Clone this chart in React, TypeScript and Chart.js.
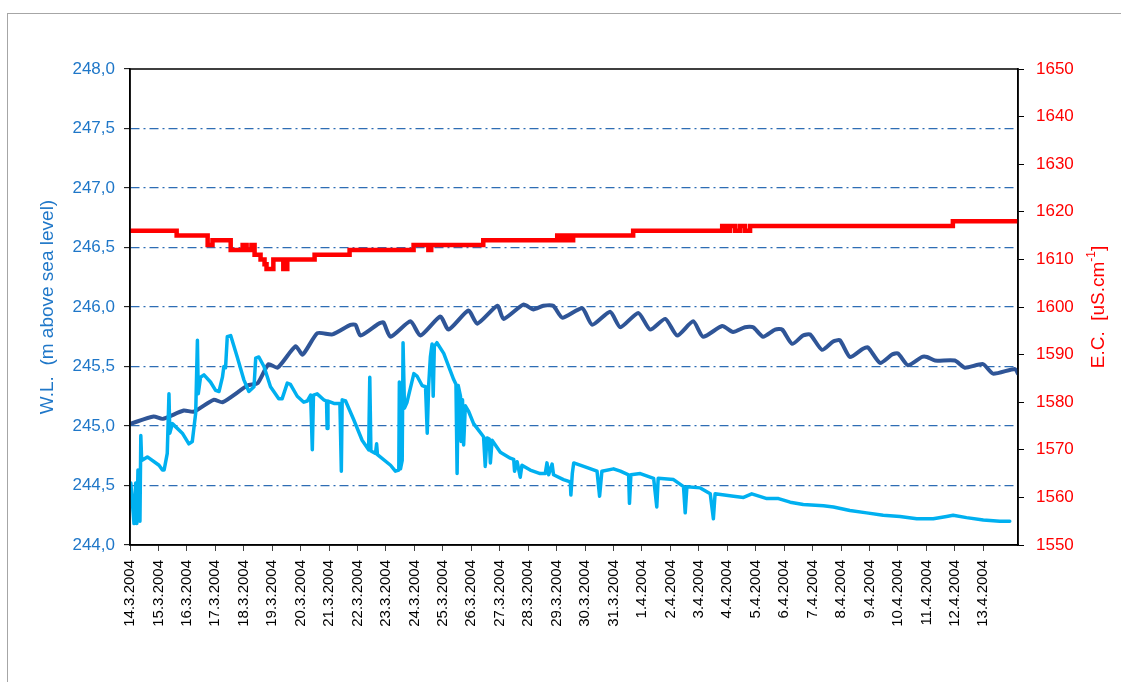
import React, { useEffect, useRef } from "react";
import { Chart, registerables } from "chart.js";

Chart.register(...registerables);

const dateLabels = [
  "14.3.2004", "15.3.2004", "16.3.2004", "17.3.2004", "18.3.2004", "19.3.2004",
  "20.3.2004", "21.3.2004", "22.3.2004", "23.3.2004", "24.3.2004", "25.3.2004",
  "26.3.2004", "27.3.2004", "28.3.2004", "29.3.2004", "30.3.2004", "31.3.2004",
  "1.4.2004", "2.4.2004", "3.4.2004", "4.4.2004", "5.4.2004", "6.4.2004",
  "7.4.2004", "8.4.2004", "9.4.2004", "10.4.2004", "11.4.2004", "12.4.2004",
  "13.4.2004",
];
const dayMax = 31.22;
const wlTicks = [244, 244.5, 245, 245.5, 246, 246.5, 247, 247.5, 248];
const ecTicks = [1550, 1560, 1570, 1580, 1590, 1600, 1610, 1620, 1630, 1640, 1650];

// E.C. (red), step series
const ecDays = [
  0.0, 1.64, 2.73, 2.9, 3.54, 3.96, 4.1, 4.27, 4.38, 4.59, 4.73, 4.8, 5.04, 5.39, 5.53,
  6.49, 7.72, 9.97, 10.49, 10.59, 12.42, 15.02, 15.16, 15.3, 15.44, 15.58, 17.69,
  20.82, 20.96, 21.1, 21.28, 21.45, 21.62, 21.8, 28.93, 31.22,
];
const ecValues = [
  1616, 1615, 1613, 1614, 1612, 1613, 1612, 1613, 1611, 1610, 1609, 1608, 1610, 1608, 1610,
  1611, 1612, 1613, 1612, 1613, 1614, 1615, 1614, 1615, 1614, 1615, 1616,
  1617, 1616, 1617, 1616, 1617, 1616, 1617, 1618, 1618,
];

// W.L. well 1 (dark blue)
const wl1Days = [
  0.03, 0.83, 1.15, 1.89, 2.24, 2.94, 3.26, 4.13, 4.49, 4.87, 5.19, 5.82, 6.07, 6.59,
  7.12, 7.75, 7.93, 8.1, 8.74, 8.91, 9.16, 9.86, 10.21, 10.91, 11.2, 11.9, 12.21, 12.92,
  13.13, 13.83, 14.18, 14.53, 14.88, 15.2, 15.9, 16.25, 16.88, 17.24, 17.87, 18.29,
  18.82, 19.24, 19.8, 20.15, 20.82, 21.2, 21.62, 21.91, 22.26, 22.68, 22.93, 23.28,
  23.66, 23.91, 24.33, 24.72, 24.96, 25.31, 25.77, 25.95, 26.37, 26.79, 27.0, 27.35,
  27.84, 28.02, 28.3, 29.0, 29.35, 29.99, 30.34, 31.11, 31.22,
];
const wl1Values = [
  245.02, 245.08, 245.06, 245.13, 245.12, 245.22, 245.2, 245.34, 245.36, 245.52, 245.49,
  245.67, 245.6, 245.78, 245.77, 245.85, 245.85, 245.76, 245.86, 245.87, 245.75, 245.88,
  245.76, 245.92, 245.81, 245.97, 245.86, 246.01, 245.9, 246.02, 245.98, 246.01, 246.01,
  245.91, 245.99, 245.85, 245.96, 245.83, 245.95, 245.81, 245.9, 245.76, 245.88, 245.75,
  245.84, 245.79, 245.83, 245.83, 245.75, 245.81, 245.81, 245.69, 245.76, 245.77, 245.64,
  245.71, 245.72, 245.58, 245.65, 245.66, 245.53, 245.6, 245.61, 245.51, 245.58, 245.58,
  245.55, 245.55, 245.49, 245.52, 245.44, 245.48, 245.44,
];

// W.L. well 2 (light blue)
const wl2Days = [
  0.03, 0.14, 0.2, 0.24, 0.28, 0.35, 0.38, 0.41, 0.61, 1.02, 1.14, 1.2, 1.31, 1.37, 1.4,
  1.49, 1.84, 2.07, 2.19, 2.31, 2.37, 2.4, 2.48, 2.6, 2.83, 3.01, 3.13, 3.25, 3.3, 3.36,
  3.42, 3.54, 3.77, 4.0, 4.18, 4.36, 4.42, 4.53, 4.71, 4.94, 5.23, 5.35, 5.53, 5.64, 5.88,
  6.11, 6.23, 6.35, 6.41, 6.45, 6.58, 6.81, 6.91, 6.93, 6.96, 7.17, 7.38, 7.43, 7.46, 7.58,
  7.87, 8.16, 8.39, 8.43, 8.47, 8.63, 8.67, 8.7, 9.16, 9.33, 9.45, 9.47, 9.51, 9.57, 9.6,
  9.65, 9.74, 9.98, 10.09, 10.27, 10.39, 10.45, 10.5, 10.56, 10.62, 10.66, 10.7, 10.79,
  11.03, 11.38, 11.46, 11.5, 11.54, 11.62, 11.64, 11.69, 11.73, 11.79, 11.91, 12.08, 12.43,
  12.49, 12.55, 12.63, 12.67, 12.73, 13.02, 13.37, 13.49, 13.52, 13.61, 13.72, 13.78,
  14.07, 14.42, 14.6, 14.66, 14.72, 14.84, 14.89, 15.24, 15.48, 15.5, 15.55, 15.6, 15.95,
  16.42, 16.51, 16.59, 17.0, 17.24, 17.53, 17.56, 17.61, 17.94, 18.41, 18.52, 18.57,
  19.11, 19.46, 19.52, 19.58, 20.05, 20.4, 20.51, 20.57, 21.22, 21.57, 21.86, 22.39,
  22.8, 23.21, 23.67, 24.38, 24.73, 25.31, 25.9, 26.48, 27.07, 27.66, 28.24, 28.71,
  28.94, 29.41, 30.0, 30.58, 30.93,
];
const wl2Values = [
  244.52, 244.18, 244.52, 244.18, 244.63, 244.2, 244.92, 244.71, 244.74, 244.67, 244.63,
  244.63, 244.77, 245.27, 244.94, 245.02, 244.94, 244.85, 244.87, 245.11, 245.72, 245.27,
  245.41, 245.43, 245.37, 245.3, 245.29, 245.41, 245.5, 245.49, 245.75, 245.76, 245.58,
  245.39, 245.29, 245.33, 245.57, 245.58, 245.5, 245.33, 245.23, 245.23, 245.36, 245.35,
  245.25, 245.2, 245.21, 245.26, 244.8, 245.26, 245.27, 245.22, 245.21, 244.98, 245.21,
  245.19, 245.19, 244.62, 245.22, 245.21, 245.05, 244.88, 244.8, 245.41, 244.79, 244.77,
  244.85, 244.76, 244.67, 244.62, 244.63, 245.37, 244.64, 244.71, 245.7, 245.15, 245.2,
  245.44, 245.42, 245.34, 245.33, 244.94, 245.34, 245.58, 245.69, 245.25, 245.67, 245.7,
  245.61, 245.39, 245.35, 244.6, 245.34, 245.25, 244.87, 245.22, 244.84, 245.17, 245.12,
  245.02, 244.91, 244.66, 244.9, 244.89, 244.69, 244.88, 244.78, 244.73, 244.72, 244.62,
  244.7, 244.57, 244.67, 244.63, 244.6, 244.6, 244.69, 244.59, 244.68, 244.59, 244.55,
  244.53, 244.42, 244.6, 244.69, 244.66, 244.62, 244.41, 244.62, 244.64, 244.62, 244.59,
  244.35, 244.59, 244.6, 244.56, 244.32, 244.56, 244.55, 244.49, 244.27, 244.49, 244.48,
  244.43, 244.22, 244.43, 244.41, 244.4, 244.43, 244.39, 244.39, 244.36, 244.34, 244.33,
  244.32, 244.29, 244.27, 244.25, 244.24, 244.22, 244.22, 244.24, 244.25, 244.23, 244.21,
  244.2, 244.2,
];

const FONT = "'Liberation Sans', Arial, sans-serif";
const WL_COLOR = "#1F77C8";
const EC_COLOR = "#FF0000";

const toPoints = (xs: number[], ys: number[]) => xs.map((x, i) => ({ x, y: ys[i] }));

const framePlugin = {
  id: "plotFrame",
  afterDraw(chart: any) {
    const { ctx, chartArea } = chart;
    const { left, top, right, bottom } = chartArea;
    ctx.save();
    ctx.strokeStyle = "#000";
    ctx.lineWidth = 1.5;
    ctx.strokeRect(left, top, right - left, bottom - top);
    // right axis title, reading bottom to top, with superscript
    const yR = chart.scales.yR;
    const cx = yR.right - 15;
    const cy = (chartArea.top + chartArea.bottom) / 2;
    ctx.translate(cx, cy);
    ctx.rotate(-Math.PI / 2);
    ctx.fillStyle = EC_COLOR;
    ctx.textBaseline = "middle";
    ctx.textAlign = "left";
    const mainFont = `19px ${FONT}`;
    const supFont = `12px ${FONT}`;
    const p1 = "E.C.  [uS.cm";
    const p2 = "-1";
    const p3 = "]";
    ctx.font = mainFont;
    const w1 = ctx.measureText(p1).width;
    const w3 = ctx.measureText(p3).width;
    ctx.font = supFont;
    const w2 = ctx.measureText(p2).width;
    let x = -(w1 + w2 + w3) / 2;
    ctx.font = mainFont;
    ctx.fillText(p1, x, 0);
    x += w1;
    ctx.font = supFont;
    ctx.fillText(p2, x, -7);
    x += w2;
    ctx.font = mainFont;
    ctx.fillText(p3, x, 0);
    ctx.restore();
  },
};

export default function App() {
  const canvasRef = useRef<HTMLCanvasElement | null>(null);

  useEffect(() => {
    const canvas = canvasRef.current;
    if (!canvas) return;
    const chart = new Chart(canvas, {
      type: "line",
      data: {
        datasets: [
          {
            label: "W.L. 2",
            data: toPoints(wl2Days, wl2Values),
            xAxisID: "x",
            yAxisID: "yL",
            borderColor: "#00B0F0",
            backgroundColor: "#00B0F0",
            borderWidth: 3.5,
            pointRadius: 0,
            tension: 0,
            borderJoinStyle: "round",
            borderCapStyle: "round",
          },
          {
            label: "W.L. 1",
            data: toPoints(wl1Days, wl1Values),
            xAxisID: "x",
            yAxisID: "yL",
            borderColor: "#2F5597",
            backgroundColor: "#2F5597",
            borderWidth: 4,
            pointRadius: 0,
            tension: 0.2,
            borderJoinStyle: "round",
            borderCapStyle: "round",
          },
          {
            label: "E.C.",
            data: toPoints(ecDays, ecValues),
            xAxisID: "x",
            yAxisID: "yR",
            borderColor: EC_COLOR,
            backgroundColor: EC_COLOR,
            borderWidth: 4.5,
            pointRadius: 0,
            stepped: true,
          },
        ],
      },
      options: {
        responsive: false,
        maintainAspectRatio: false,
        animation: false,
        devicePixelRatio: 1,
        layout: { padding: { top: 69, left: 32, right: 7, bottom: 0 } },
        plugins: {
          legend: { display: false },
          tooltip: { enabled: false },
        },
        scales: {
          x: {
            type: "linear",
            position: "bottom",
            min: 0,
            max: dayMax,
            afterBuildTicks: (s: any) => {
              s.ticks = dateLabels.map((_, i) => ({ value: i }));
            },
            afterFit: (s: any) => {
              s.height = 137;
            },
            ticks: {
              autoSkip: false,
              maxRotation: 90,
              minRotation: 90,
              padding: 9,
              color: "#000",
              font: { family: FONT, size: 15 },
              callback: (_v: any, i: number) => dateLabels[i],
            },
            grid: {
              drawOnChartArea: false,
              drawTicks: true,
              tickLength: 6,
              tickColor: "#444",
              tickWidth: 1,
            },
            border: { display: true, color: "#000", width: 1.5 },
          },
          yL: {
            type: "linear",
            position: "left",
            min: 244,
            max: 248,
            afterBuildTicks: (s: any) => {
              s.ticks = wlTicks.map((v) => ({ value: v }));
            },
            afterFit: (s: any) => {
              s.width = 98;
            },
            ticks: {
              padding: 9,
              color: WL_COLOR,
              font: { family: FONT, size: 17 },
              callback: (v: any) => Number(v).toFixed(1).replace(".", ","),
            },
            grid: {
              drawOnChartArea: true,
              color: (ctx: any) =>
                ctx.tick && (ctx.tick.value === 244 || ctx.tick.value === 248)
                  ? "rgba(0,0,0,0)"
                  : "#2E6DB4",
              lineWidth: 1.3,
              tickLength: 6,
              tickColor: "#000",
              tickWidth: 1,
            },
            border: { display: true, color: "#000", width: 1.5, dash: [9, 4, 2, 4] },
            title: {
              display: true,
              text: "W.L.  (m above sea level)",
              color: WL_COLOR,
              font: { family: FONT, size: 19 },
              padding: { top: 4, bottom: 4 },
            },
          },
          yR: {
            type: "linear",
            position: "right",
            min: 1550,
            max: 1650,
            afterBuildTicks: (s: any) => {
              s.ticks = ecTicks.map((v) => ({ value: v }));
            },
            afterFit: (s: any) => {
              s.width = 96;
            },
            ticks: {
              padding: 12,
              color: EC_COLOR,
              font: { family: FONT, size: 17 },
              callback: (v: any) => String(v),
            },
            grid: {
              drawOnChartArea: false,
              tickLength: 6,
              tickColor: "#000",
              tickWidth: 1,
            },
            border: { display: true, color: "#000", width: 1.5 },
          },
        },
      },
      plugins: [framePlugin],
    } as any);
    return () => chart.destroy();
  }, []);

  return (
    <div
      style={{
        position: "fixed",
        left: 0,
        top: 0,
        width: 1121,
        height: 682,
        overflow: "hidden",
        background: "#fff",
      }}
    >
      <div
        style={{
          position: "absolute",
          left: 7,
          top: 13,
          right: 0,
          bottom: 0,
          borderTop: "1px solid #a6a6a6",
          borderLeft: "1px solid #a6a6a6",
        }}
      />
      <canvas
        ref={canvasRef}
        width={1121}
        height={682}
        style={{ position: "absolute", left: 0, top: 0, width: 1121, height: 682 }}
      />
    </div>
  );
}
